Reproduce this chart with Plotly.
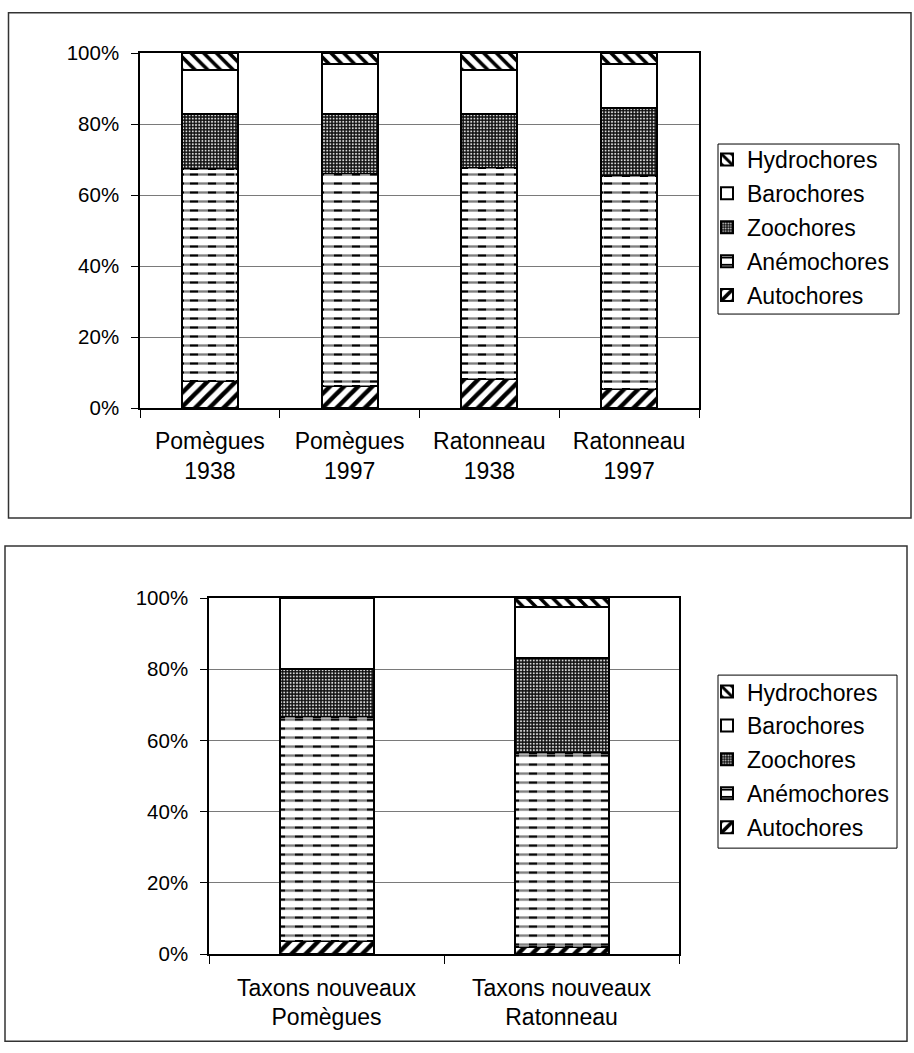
import plotly.graph_objects as go

# ---- data ----
series = ["Autochores", "Anémochores", "Zoochores", "Barochores", "Hydrochores"]
legend_rank = [5, 4, 3, 2, 1]

cats1 = ["Pomègues<br>1938", "Pomègues<br>1997", "Ratonneau<br>1938", "Ratonneau<br>1997"]
autochores1 = [7.6, 6.2, 8.3, 5.4]
anemochores1 = [59.8, 59.6, 59.4, 60.0]
zoochores1 = [15.3, 16.9, 15.2, 19.0]
barochores1 = [12.4, 14.3, 12.2, 12.6]
hydrochores1 = [4.9, 3.0, 4.9, 3.0]

cats2 = ["Taxons nouveaux<br>Pomègues", "Taxons nouveaux<br>Ratonneau"]
autochores2 = [3.7, 2.0]
anemochores2 = [62.9, 54.5]
zoochores2 = [13.4, 26.7]
barochores2 = [20.0, 14.4]
hydrochores2 = [0.0, 2.4]

yticks = [0, 20, 40, 60, 80, 100]
yticklabels = ["0%", "20%", "40%", "60%", "80%", "100%"]

# ---- geometry ----
W, H = 914, 1053
FONT = "Liberation Sans, Arial, sans-serif"
# vertical calibration of the photographed page (observed: shown = 0.978*y + 11)
SY, OY = 0.978, 11.0

def px_x(v):
    return v / W

def px_y(v):
    f = (v - OY) / SY
    f = min(max(f, 0.75), H - 0.75)
    return 1 - f / H

def pat(name):
    if name == "Autochores":
        return dict(shape="/", fgcolor="black", bgcolor="white", size=10, solidity=0.45, fillmode="replace")
    if name == "Anémochores":
        return dict(shape="-", fgcolor="black", bgcolor="white", size=9, solidity=0.26, fillmode="replace")
    if name == "Zoochores":
        return dict(shape=".", fgcolor="#d8d8d8", bgcolor="#111111", size=3.2, solidity=0.3, fillmode="replace")
    if name == "Hydrochores":
        return dict(shape="\\", fgcolor="black", bgcolor="white", size=9, solidity=0.4, fillmode="replace")
    return dict(shape="", fgcolor="black", bgcolor="white")

fig = go.Figure()

groups = [
    (cats1, [autochores1, anemochores1, zoochores1, barochores1, hydrochores1], "x", "y", "legend", "x3", "y3"),
    (cats2, [autochores2, anemochores2, zoochores2, barochores2, hydrochores2], "x2", "y2", "legend2", "x4", "y4"),
]

for cats, data, xa, ya, lg, xo, yo in groups:
    for name, rank, vals in zip(series, legend_rank, data):
        fig.add_trace(go.Bar(
            x=cats, y=vals, name=name, xaxis=xa, yaxis=ya, legend=lg, legendgroup=name,
            legendrank=rank,
            marker=dict(color="white", line=dict(color="black", width=2), pattern=pat(name)),
        ))
    # overlay that breaks the horizontal lines of Anémochores into dashes
    fig.add_trace(go.Bar(
        x=cats, y=data[0], xaxis=xo, yaxis=yo, showlegend=False, hoverinfo="skip",
        width=0.37, marker=dict(color="rgba(0,0,0,0)", line=dict(width=0)),
    ))
    fig.add_trace(go.Bar(
        x=cats, y=data[1], xaxis=xo, yaxis=yo, showlegend=False, hoverinfo="skip",
        width=0.37,
        marker=dict(color="rgba(0,0,0,0)", line=dict(width=0),
                    pattern=dict(shape="|", fgcolor="white", bgcolor="rgba(0,0,0,0)",
                                 size=18, solidity=0.55, fillmode="overlay")),
    ))

yaxis_common = dict(
    range=[0, 100], tickvals=yticks, ticktext=yticklabels, ticks="outside", ticklen=7,
    tickcolor="black", showline=True, linecolor="black", linewidth=1.5, mirror=True,
    showgrid=True, gridcolor="#7a7a7a", gridwidth=1, zeroline=False,
    tickfont=dict(family=FONT, size=20.5, color="black"), ticklabelstandoff=8,
    fixedrange=True,
)
xaxis_common = dict(
    type="category", tickson="boundaries", ticks="outside", ticklen=8, tickcolor="black",
    showline=True, linecolor="black", linewidth=1.5, mirror=True, showgrid=False,
    tickfont=dict(family=FONT, size=23, color="black"), ticklabelstandoff=12,
    fixedrange=True,
)
ov_x = dict(type="category", showline=False, showgrid=False, showticklabels=False, ticks="")
ov_y = dict(range=[0, 100], showline=False, showgrid=False, showticklabels=False, ticks="", zeroline=False)

legend_common = dict(
    borderwidth=0, bgcolor="rgba(0,0,0,0)",
    font=dict(family=FONT, size=23, color="black"),
    traceorder="grouped", xanchor="left", yanchor="top",
    itemwidth=30, tracegroupgap=1,
)

d1x = [px_x(140), px_x(699)]
d1y = [px_y(407), px_y(52)]
d2x = [px_x(209), px_x(679)]
d2y = [px_y(953), px_y(597)]

fig.update_layout(
    width=W, height=H,
    margin=dict(l=0, r=0, t=0, b=0),
    paper_bgcolor="white", plot_bgcolor="white",
    barmode="stack", bargap=0.6,
    xaxis=dict(domain=d1x, anchor="y", **xaxis_common),
    yaxis=dict(domain=d1y, anchor="x", **yaxis_common),
    xaxis2=dict(domain=d2x, anchor="y2", **xaxis_common),
    yaxis2=dict(domain=d2y, anchor="x2", **yaxis_common),
    xaxis3=dict(domain=d1x, anchor="y3", overlaying="x", **ov_x),
    yaxis3=dict(domain=d1y, anchor="x3", overlaying="y", **ov_y),
    xaxis4=dict(domain=d2x, anchor="y4", overlaying="x2", **ov_x),
    yaxis4=dict(domain=d2y, anchor="x4", overlaying="y2", **ov_y),
    legend=dict(x=px_x(707), y=px_y(137), **legend_common),
    legend2=dict(x=px_x(707), y=px_y(669), **legend_common),
    showlegend=True,
    shapes=[
        dict(type="rect", xref="paper", yref="paper",
             x0=px_x(8.5), x1=px_x(911), y0=px_y(517), y1=px_y(6),
             line=dict(color="#333333", width=1.5)),
        dict(type="rect", xref="paper", yref="paper",
             x0=px_x(5), x1=px_x(907), y0=px_y(1050), y1=px_y(545),
             line=dict(color="#333333", width=1.5)),
        dict(type="rect", xref="paper", yref="paper",
             x0=px_x(718), x1=px_x(899), y0=px_y(313), y1=px_y(143),
             line=dict(color="black", width=1)),
        dict(type="rect", xref="paper", yref="paper",
             x0=px_x(718), x1=px_x(897), y0=px_y(847), y1=px_y(674),
             line=dict(color="black", width=1)),
    ],
)

post = (
    "var gd=document.getElementById('{plot_id}');"
    "document.body.style.margin='0';"
    "document.body.style.padding='0';"
    "gd.style.position='absolute';gd.style.left='0px';gd.style.top='0px';"
)

fig.write_html("out.html", post_script=post, config={"displayModeBar": False})
